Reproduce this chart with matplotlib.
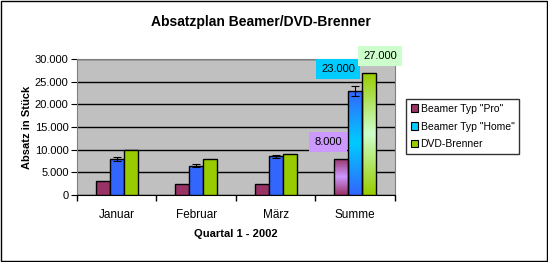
import numpy as np
import matplotlib.pyplot as plt
from matplotlib.patches import Rectangle
from matplotlib.colors import LinearSegmentedColormap
from matplotlib.ticker import FuncFormatter

plt.rcParams['font.family'] = ['Liberation Sans', 'DejaVu Sans']

monate = ['Januar', 'Februar', 'März', 'Summe']
serien = ['Beamer Typ "Pro"', 'Beamer Typ "Home"', 'DVD-Brenner']
pro = np.array([3000, 2500, 2500, 8000])
home = np.array([8000, 6500, 8500, 23000])
dvd = np.array([10000, 8000, 9000, 27000])
home_fehler = np.array([400, 325, 425, 1150])

farben = ['#993366', '#3366FF', '#99CC00']          # normale Balken
hell = ['#CC99FF', '#00CCFF', '#CCFFCC']            # Mitte der Verlaeufe (Summe)
legende_farben = ['#993366', '#00CCFF', '#99CC00']

fig = plt.figure(figsize=(5.48, 2.62), dpi=100)
ax = fig.add_axes([0.1405, 0.2557, 0.5803, 0.5191])
ax.set_facecolor('#C0C0C0')

index = np.arange(len(monate))
breite = 0.176
werte = [pro, home, dvd]
balken = []
for i, (w, f) in enumerate(zip(werte, farben)):
    x = index + (i - 1) * breite
    b = ax.bar(x, w, breite, color=f, edgecolor='black', linewidth=1, zorder=3)
    balken.append(b)

ax.errorbar(index, home, yerr=home_fehler, fmt='none', ecolor='black',
            elinewidth=0.8, capsize=3, capthick=0.8, zorder=4)

# Verlauf fuer die Summe-Balken
for i in range(3):
    r = balken[i][3]
    r.set_facecolor('none')
    cmap = LinearSegmentedColormap.from_list('v', [farben[i], hell[i], farben[i]])
    grad = np.linspace(0, 1, 64).reshape(-1, 1)
    im = ax.imshow(grad, cmap=cmap, aspect='auto', zorder=2.9,
                   extent=[r.get_x(), r.get_x() + r.get_width(), 0, r.get_height()],
                   origin='lower')
    im.set_clip_path(r)

ax.set_xlim(-0.5, 3.5)
ax.set_ylim(0, 30000)
ax.set_yticks(np.arange(0, 30001, 5000))
ax.yaxis.set_major_formatter(FuncFormatter(lambda v, p: f'{int(v):,}'.replace(',', '.')))
ax.set_xticks(np.arange(-0.5, 3.6, 1))
ax.set_xticklabels([])
ax.set_xticks(index, minor=True)
ax.set_xticklabels(monate, minor=True)
ax.tick_params(axis='x', which='minor', length=0, pad=10, labelsize=8.5)
ax.tick_params(axis='x', which='major', length=4, direction='out', width=1)
ax.tick_params(axis='y', length=4, direction='out', labelsize=8, pad=2)
ax.grid(axis='y', color='black', linewidth=1, zorder=1)
ax.set_axisbelow(True)
for s in ['top', 'right', 'left']:
    ax.spines[s].set_color('#808080')
ax.spines['bottom'].set_color('black')

ax.set_ylabel('Absatz in Stück', fontsize=8, fontweight='bold', labelpad=2)
ax.set_xlabel('Quartal 1 - 2002', fontsize=8, fontweight='bold', labelpad=6)

# Beschriftungen der Summen
versatz = [(-13, 17), (-17, 22), (11, 17)]
for i in range(3):
    r = balken[i][3]
    ax.annotate(f'{int(werte[i][3]):,}'.replace(',', '.'),
                (r.get_x() + r.get_width() / 2, r.get_height()),
                xytext=versatz[i], textcoords='offset pixels',
                ha='center', va='center', fontsize=8, annotation_clip=False,
                bbox=dict(boxstyle='square,pad=0.45', fc=hell[i], ec='none'), zorder=5)

handles = [Rectangle((0, 0), 1, 1, fc=c, ec='black', lw=0.8) for c in legende_farben]
fig.legend(handles, serien, loc='center left', bbox_to_anchor=(406 / 548, 1 - 126.5 / 262),
           fontsize=7.5, frameon=True, fancybox=False, edgecolor='black',
           handlelength=0.7, handleheight=0.7, handletextpad=0.25, borderpad=0.45,
           labelspacing=0.75, borderaxespad=0)

fig.text(261 / 548, 1 - 22 / 262, 'Absatzplan Beamer/DVD-Brenner', ha='center', va='center',
         fontsize=10, fontweight='bold')

fig.patches.append(Rectangle((0.001, 0.002), 0.997, 0.996, transform=fig.transFigure,
                             fill=False, ec='black', lw=1))

fig.savefig('out.png', dpi=100)
